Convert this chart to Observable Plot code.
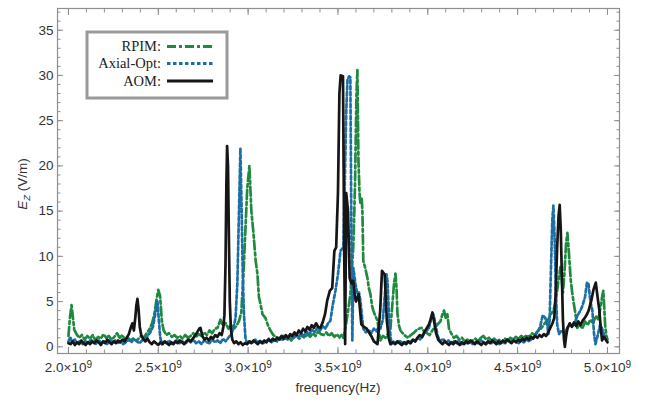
<!DOCTYPE html>
<html><head><meta charset="utf-8">
<script src="https://cdn.jsdelivr.net/npm/d3@7"></script>
<script src="https://cdn.jsdelivr.net/npm/@observablehq/plot@0.6"></script>
<style>
body{margin:0;background:#fff;}
#chart svg{display:block;}
</style>
</head><body><div id="chart"></div>
<script>
// Series names / styles
const seriesNames = ["RPIM:", "Axial-Opt:", "AOM:"];
const seriesColors = ["#1f8a3f", "#1c6fa6", "#161616"];
const seriesDash = ["9,3,3,3", "3.5,2.5", null];

// Tick values (frequency in units of 1e9 Hz)
const xMajor = [2.0, 2.5, 3.0, 3.5, 4.0, 4.5, 5.0];
const xMinor = [2.0,2.1,2.2,2.3,2.4,2.5,2.6,2.7,2.8,2.9,3.0,3.1,3.2,3.3,3.4,3.5,3.6,3.7,3.8,3.9,4.0,4.1,4.2,4.3,4.4,4.5,4.6,4.7,4.8,4.9,5.0];
const yMajor = [0, 5, 10, 15, 20, 25, 30, 35];
const yMinor = [0,1,2,3,4,5,6,7,8,9,10,11,12,13,14,15,16,17,18,19,20,21,22,23,24,25,26,27,28,29,30,31,32,33,34,35,36,37];

// RPIM: [frequency (GHz), Ez (V/m)]
const rpim = [[2.000,1.2],[2.008,3.2],[2.017,4.6],[2.024,3.4],[2.032,1.9],[2.045,1.4],[2.06,1.0],[2.075,1.3],[2.09,0.8],[2.105,1.2],[2.12,0.9],[2.135,1.3],[2.15,0.7],[2.165,1.1],[2.18,0.9],[2.195,1.4],[2.21,1.0],[2.225,1.2],[2.24,0.8],[2.255,1.1],[2.27,1.5],[2.285,1.0],[2.30,1.3],[2.315,0.8],[2.33,1.0],[2.345,0.7],[2.36,0.9],[2.375,0.6],[2.39,0.9],[2.405,1.2],[2.42,1.0],[2.435,1.5],[2.45,1.9],[2.465,2.6],[2.478,3.6],[2.49,5.2],[2.50,6.3],[2.51,5.6],[2.52,2.8],[2.53,1.8],[2.545,1.3],[2.56,1.5],[2.575,1.1],[2.59,1.3],[2.605,1.0],[2.62,1.2],[2.635,0.9],[2.65,1.3],[2.665,1.0],[2.68,1.2],[2.695,1.5],[2.71,1.1],[2.725,1.4],[2.74,1.2],[2.755,1.6],[2.77,1.3],[2.785,1.8],[2.80,1.5],[2.815,2.0],[2.83,2.1],[2.846,3.0],[2.86,2.3],[2.875,2.6],[2.89,2.0],[2.905,2.4],[2.92,2.0],[2.935,2.3],[2.95,2.9],[2.962,3.8],[2.974,8.0],[2.985,13],[2.995,17.5],[3.007,20.0],[3.018,15],[3.03,12.5],[3.042,9.5],[3.052,8.0],[3.06,5.5],[3.068,4.8],[3.08,3.6],[3.096,3.2],[3.11,2.4],[3.124,1.8],[3.14,1.3],[3.163,1.0],[3.18,0.8],[3.195,1.2],[3.21,0.9],[3.225,1.1],[3.24,0.7],[3.255,1.0],[3.27,1.3],[3.285,0.9],[3.30,1.2],[3.315,1.0],[3.33,1.4],[3.345,1.1],[3.36,1.5],[3.375,1.2],[3.39,1.7],[3.405,1.4],[3.42,1.3],[3.435,1.6],[3.45,1.2],[3.465,1.5],[3.48,1.1],[3.495,1.4],[3.51,1.0],[3.52,1.3],[3.53,1.0],[3.545,2.5],[3.558,4.2],[3.569,5.8],[3.578,8.5],[3.586,11.4],[3.595,18],[3.603,28],[3.608,30.6],[3.614,20.6],[3.62,17],[3.625,15.8],[3.632,16.5],[3.636,15],[3.641,9.5],[3.652,8.7],[3.664,7.6],[3.672,6.5],[3.681,5.8],[3.69,4.5],[3.697,4.0],[3.708,3.4],[3.72,2.9],[3.728,1.6],[3.736,0.7],[3.75,1.2],[3.765,1.0],[3.78,1.5],[3.792,2.0],[3.802,4.5],[3.812,7.0],[3.82,8.1],[3.826,6.5],[3.831,3.7],[3.84,2.3],[3.848,1.8],[3.86,1.5],[3.875,1.2],[3.89,1.0],[3.905,1.3],[3.92,1.5],[3.935,1.8],[3.95,2.0],[3.965,2.1],[3.98,1.7],[3.995,1.5],[4.01,1.3],[4.025,1.8],[4.04,2.2],[4.055,2.5],[4.07,2.8],[4.08,3.5],[4.09,4.0],[4.10,3.2],[4.109,3.6],[4.118,2.0],[4.13,1.5],[4.145,1.0],[4.16,1.2],[4.175,0.8],[4.19,1.0],[4.205,0.6],[4.22,0.8],[4.235,0.5],[4.25,0.7],[4.265,0.9],[4.28,0.6],[4.295,1.0],[4.31,1.2],[4.325,0.8],[4.34,1.0],[4.355,0.7],[4.37,0.9],[4.385,0.6],[4.40,0.8],[4.415,0.5],[4.43,0.9],[4.445,0.7],[4.46,1.0],[4.475,0.8],[4.49,1.1],[4.505,0.9],[4.52,1.2],[4.535,1.0],[4.55,1.3],[4.565,1.1],[4.58,1.5],[4.595,1.3],[4.61,1.7],[4.625,1.9],[4.64,2.3],[4.655,2.7],[4.67,3.0],[4.685,3.6],[4.699,4.0],[4.712,5.0],[4.725,7.0],[4.738,8.8],[4.745,7.5],[4.752,6.0],[4.76,8.0],[4.77,11.5],[4.777,12.6],[4.785,10.5],[4.795,7.5],[4.805,5.8],[4.815,4.5],[4.825,3.2],[4.832,2.1],[4.845,2.5],[4.86,2.0],[4.875,2.8],[4.89,2.4],[4.905,3.0],[4.92,2.6],[4.935,3.4],[4.95,3.0],[4.962,4.5],[4.97,5.5],[4.977,6.2],[4.983,4.0],[4.988,2.1],[4.995,1.2],[5.0,0.8]];

// Axial-Opt
const axialOpt = [[2.000,0.6],[2.01,1.1],[2.02,0.5],[2.035,0.8],[2.05,0.4],[2.065,0.7],[2.08,0.3],[2.095,0.6],[2.11,0.4],[2.125,0.8],[2.14,0.5],[2.155,0.3],[2.17,0.7],[2.185,0.4],[2.20,0.6],[2.215,0.3],[2.23,0.8],[2.245,0.5],[2.26,0.7],[2.275,0.4],[2.29,0.6],[2.305,0.3],[2.32,0.5],[2.335,0.8],[2.35,0.5],[2.365,0.9],[2.38,0.6],[2.395,0.4],[2.41,0.7],[2.425,0.9],[2.44,1.2],[2.455,1.6],[2.47,2.2],[2.482,3.5],[2.495,5.1],[2.503,3.0],[2.51,1.2],[2.518,0.3],[2.53,0.6],[2.545,0.4],[2.56,0.7],[2.575,0.3],[2.59,0.5],[2.605,0.8],[2.62,0.4],[2.635,0.6],[2.65,0.3],[2.665,0.7],[2.68,0.5],[2.695,0.8],[2.71,0.4],[2.725,0.6],[2.74,0.3],[2.755,0.7],[2.77,0.5],[2.785,0.4],[2.80,0.8],[2.815,0.5],[2.83,0.7],[2.845,0.4],[2.86,0.9],[2.875,0.6],[2.89,1.0],[2.905,1.4],[2.918,2.0],[2.93,3.2],[2.94,7],[2.948,14],[2.957,21.9],[2.964,15],[2.97,8],[2.977,3.5],[2.985,1.0],[2.995,0.3],[3.01,0.6],[3.025,0.4],[3.04,0.8],[3.055,0.5],[3.07,0.7],[3.085,0.4],[3.10,0.6],[3.115,0.9],[3.13,0.5],[3.145,0.8],[3.16,0.6],[3.175,1.0],[3.19,0.7],[3.205,1.1],[3.22,0.8],[3.235,1.2],[3.25,0.9],[3.265,1.3],[3.28,1.0],[3.295,1.5],[3.31,1.2],[3.325,1.7],[3.34,1.4],[3.355,1.9],[3.37,1.6],[3.385,2.1],[3.40,1.8],[3.415,2.3],[3.43,2.0],[3.445,2.6],[3.458,2.9],[3.47,4.5],[3.486,6.2],[3.50,8.0],[3.514,10.6],[3.522,10.8],[3.53,11.0],[3.538,18],[3.546,26],[3.553,29.5],[3.562,29.9],[3.569,29.8],[3.575,12],[3.58,0.7],[3.586,8.7],[3.597,7.0],[3.608,5.8],[3.617,6.0],[3.625,5.1],[3.633,3.5],[3.641,2.0],[3.655,1.6],[3.67,1.9],[3.685,1.5],[3.70,2.0],[3.715,1.7],[3.725,2.2],[3.736,2.0],[3.75,3.0],[3.762,6.0],[3.77,8.0],[3.776,7.2],[3.786,2.5],[3.797,0.3],[3.81,0.6],[3.825,0.4],[3.84,0.7],[3.855,0.5],[3.87,0.3],[3.885,0.6],[3.90,0.4],[3.915,0.8],[3.93,0.6],[3.945,1.0],[3.96,0.8],[3.975,1.3],[3.99,1.7],[4.005,2.0],[4.018,3.0],[4.031,3.6],[4.042,2.6],[4.055,1.2],[4.07,0.6],[4.085,0.9],[4.10,0.5],[4.115,0.7],[4.13,0.3],[4.145,0.6],[4.16,0.4],[4.175,0.7],[4.19,0.3],[4.205,0.5],[4.22,0.4],[4.235,0.6],[4.25,0.3],[4.265,0.5],[4.28,0.4],[4.295,0.7],[4.31,0.5],[4.325,0.3],[4.34,0.6],[4.355,0.4],[4.37,0.7],[4.385,0.5],[4.40,0.3],[4.415,0.6],[4.43,0.4],[4.445,0.7],[4.46,0.5],[4.475,0.8],[4.49,0.6],[4.505,0.4],[4.52,0.7],[4.535,0.5],[4.55,0.8],[4.565,0.6],[4.58,0.9],[4.595,1.2],[4.61,1.6],[4.625,2.2],[4.64,3.5],[4.654,3.2],[4.665,2.4],[4.671,1.4],[4.678,3],[4.686,9],[4.693,14],[4.699,15.6],[4.706,12],[4.713,6],[4.72,2.5],[4.73,1.4],[4.745,1.8],[4.76,1.5],[4.775,2.0],[4.79,2.5],[4.805,2.2],[4.82,2.8],[4.835,3.5],[4.849,4.0],[4.86,4.5],[4.875,5.5],[4.886,7.1],[4.894,7.0],[4.905,5.0],[4.916,4.0],[4.925,1.5],[4.933,0.3],[4.945,1.2],[4.96,2.5],[4.97,2.0],[4.98,1.4],[4.99,0.9],[5.0,0.5]];

// AOM
const aom = [[2.000,0.4],[2.012,0.3],[2.024,0.6],[2.036,0.2],[2.048,0.5],[2.06,0.3],[2.072,0.7],[2.084,0.4],[2.096,0.2],[2.108,0.5],[2.12,0.3],[2.132,0.6],[2.144,0.4],[2.156,0.7],[2.168,0.5],[2.18,0.2],[2.192,0.6],[2.204,0.4],[2.216,0.8],[2.228,0.5],[2.24,0.3],[2.252,0.6],[2.264,0.4],[2.276,0.7],[2.288,0.5],[2.30,0.8],[2.312,0.6],[2.324,1.0],[2.336,1.4],[2.348,2.2],[2.356,2.6],[2.364,1.8],[2.372,3.2],[2.378,4.6],[2.384,5.3],[2.39,4.2],[2.397,2.2],[2.405,1.3],[2.415,0.9],[2.428,0.6],[2.44,0.9],[2.452,0.5],[2.464,0.3],[2.476,0.6],[2.488,0.4],[2.50,0.2],[2.512,0.5],[2.524,0.3],[2.536,0.6],[2.548,0.4],[2.56,0.2],[2.572,0.5],[2.584,0.3],[2.596,0.6],[2.608,0.4],[2.62,0.7],[2.632,0.5],[2.644,0.3],[2.656,0.6],[2.668,0.8],[2.68,0.6],[2.692,0.9],[2.704,1.2],[2.716,1.6],[2.728,2.0],[2.735,2.1],[2.745,1.2],[2.757,0.8],[2.769,1.0],[2.781,0.7],[2.793,1.1],[2.805,0.9],[2.817,1.3],[2.829,1.1],[2.841,1.5],[2.853,1.3],[2.862,2.2],[2.868,3.5],[2.874,9],[2.879,18],[2.883,22.2],[2.888,20],[2.893,12],[2.898,5],[2.904,2.0],[2.912,0.8],[2.922,0.4],[2.934,0.6],[2.946,0.3],[2.958,0.5],[2.97,0.2],[2.982,0.4],[2.994,0.3],[3.006,0.6],[3.018,0.4],[3.03,0.7],[3.042,0.5],[3.054,0.3],[3.066,0.6],[3.078,0.4],[3.09,0.7],[3.102,0.5],[3.114,0.8],[3.126,0.6],[3.138,0.9],[3.15,0.7],[3.162,1.0],[3.174,0.8],[3.186,1.2],[3.198,0.9],[3.21,1.3],[3.222,1.0],[3.234,1.4],[3.246,1.2],[3.258,1.6],[3.27,1.3],[3.282,1.8],[3.294,1.5],[3.306,2.0],[3.318,1.7],[3.33,2.2],[3.342,1.9],[3.354,2.4],[3.366,2.1],[3.378,2.6],[3.39,2.2],[3.402,2.1],[3.415,2.7],[3.428,3.6],[3.44,5.1],[3.455,6.2],[3.468,6.5],[3.48,10.6],[3.49,11.0],[3.50,17],[3.508,28],[3.515,30.0],[3.528,29.9],[3.535,10],[3.54,0.3],[3.546,17],[3.556,15],[3.565,7.6],[3.575,7.0],[3.585,7.3],[3.595,5.5],[3.60,5.0],[3.615,5.8],[3.63,2.5],[3.645,2.2],[3.66,2.0],[3.672,1.6],[3.685,1.2],[3.70,0.6],[3.72,0.3],[3.735,4.0],[3.745,8.4],[3.76,8.0],[3.772,2.9],[3.782,1.0],[3.792,0.3],[3.805,0.5],[3.818,0.3],[3.83,0.6],[3.842,0.4],[3.855,0.2],[3.868,0.5],[3.88,0.3],[3.892,0.6],[3.905,0.4],[3.918,0.8],[3.93,0.6],[3.942,1.0],[3.955,1.3],[3.968,1.1],[3.98,1.6],[3.992,2.0],[4.005,2.4],[4.015,3.0],[4.026,3.8],[4.035,2.8],[4.046,1.5],[4.058,0.8],[4.07,0.5],[4.082,0.3],[4.094,0.6],[4.106,0.4],[4.118,0.2],[4.13,0.5],[4.142,0.3],[4.154,0.6],[4.166,0.4],[4.178,0.2],[4.19,0.5],[4.202,0.3],[4.214,0.6],[4.226,0.4],[4.238,0.7],[4.25,0.5],[4.262,0.3],[4.274,0.6],[4.286,0.4],[4.298,0.2],[4.31,0.5],[4.322,0.3],[4.334,0.6],[4.346,0.4],[4.358,0.7],[4.37,0.5],[4.382,0.3],[4.394,0.6],[4.406,0.4],[4.418,0.7],[4.43,0.5],[4.442,0.8],[4.454,0.6],[4.466,0.4],[4.478,0.7],[4.49,0.5],[4.502,0.8],[4.514,0.6],[4.526,0.9],[4.538,0.7],[4.55,1.0],[4.562,0.8],[4.574,1.1],[4.586,0.9],[4.598,1.2],[4.61,1.0],[4.622,1.3],[4.634,1.1],[4.646,1.4],[4.658,1.2],[4.67,1.6],[4.682,2.1],[4.694,2.6],[4.704,3.2],[4.712,6],[4.72,11],[4.728,14.5],[4.734,15.7],[4.74,13],[4.746,8],[4.752,3],[4.758,0.8],[4.763,0.0],[4.77,1.2],[4.778,2.1],[4.79,2.6],[4.802,2.2],[4.814,2.7],[4.826,2.3],[4.838,2.8],[4.85,2.4],[4.862,2.9],[4.874,3.2],[4.886,3.6],[4.895,4.0],[4.91,5.1],[4.922,6.3],[4.935,7.1],[4.945,5.5],[4.955,4.0],[4.962,2.2],[4.97,0.7],[4.98,1.1],[4.99,0.8],[5.0,0.5]];

const allSeries = [rpim, axialOpt, aom];
const G = 1e9;
const frameColor = "#8f8f8f";
const fmtX = d => `${(d / G).toFixed(1)}×10|9`;

const plot = Plot.plot({
  width: 647,
  height: 403,
  marginLeft: 57,
  marginRight: 28,
  marginTop: 8,
  marginBottom: 50,
  style: {fontFamily: "Liberation Sans, Arial, sans-serif", fontSize: "13.5px", background: "#fff", overflow: "visible"},
  x: {domain: [1.939 * G, 5.067 * G]},
  y: {domain: [-0.74, 37.4]},
  marks: [
    ...allSeries.map((s, i) => Plot.line(s, {
      x: d => d[0] * G, y: d => d[1],
      stroke: seriesColors[i], strokeWidth: 2.7,
      strokeDasharray: seriesDash[i], strokeLinejoin: "round", clip: true
    })),
    Plot.frame({stroke: frameColor, strokeWidth: 1.2}),
    // bottom axis labels
    Plot.axisX(xMajor.map(d => d * G), {anchor: "bottom", tickSize: 0, tickPadding: 9, tickFormat: fmtX, fill: "#333", fontSize: 13.5, label: null, ariaLabel: "xlabels"}),
    // inward ticks
    Plot.axisX(xMajor.map(d => d * G), {anchor: "bottom", tickSize: -6, stroke: frameColor, tickFormat: () => "", label: null}),
    Plot.axisX(xMinor.map(d => d * G), {anchor: "bottom", tickSize: -3.5, stroke: frameColor, tickFormat: () => "", label: null}),
    Plot.axisX(xMajor.map(d => d * G), {anchor: "top", tickSize: -6, stroke: frameColor, tickFormat: () => "", label: null}),
    Plot.axisX(xMinor.map(d => d * G), {anchor: "top", tickSize: -3.5, stroke: frameColor, tickFormat: () => "", label: null}),
    Plot.axisY(yMajor, {anchor: "left", tickSize: 0, tickPadding: 4, fill: "#333", fontSize: 13.5, label: null}),
    Plot.axisY(yMajor, {anchor: "left", tickSize: -6, stroke: frameColor, tickFormat: () => "", label: null}),
    Plot.axisY(yMinor, {anchor: "left", tickSize: -3.5, stroke: frameColor, tickFormat: () => "", label: null}),
    Plot.axisY(yMajor, {anchor: "right", tickSize: -6, stroke: frameColor, tickFormat: () => "", label: null}),
    Plot.axisY(yMinor, {anchor: "right", tickSize: -3.5, stroke: frameColor, tickFormat: () => "", label: null})
  ]
});

document.getElementById("chart").appendChild(plot);
const svg = d3.select(plot);

// Turn "2.0×10|9" into mantissa with a raised exponent
svg.selectAll("text").each(function() {
  const t = this.textContent;
  if (t.includes("×10|")) {
    const [base, exp] = t.split("|");
    const el = d3.select(this);
    el.text(null);
    el.append("tspan").text(base);
    el.append("tspan").attr("font-size", 10).attr("dy", "-0.45em").text(exp);
  }
});

// Axis titles
svg.append("text")
  .attr("x", 338).attr("y", 392)
  .attr("text-anchor", "middle")
  .attr("font-family", "Liberation Sans, Arial, sans-serif")
  .attr("font-size", 13.5).attr("fill", "#333")
  .text("frequency(Hz)");

const yt = svg.append("text")
  .attr("transform", "translate(27,184) rotate(-90)")
  .attr("text-anchor", "middle")
  .attr("font-family", "Liberation Sans, Arial, sans-serif")
  .attr("font-size", 13.5).attr("fill", "#333");
yt.append("tspan").attr("font-style", "italic").text("E");
yt.append("tspan").attr("font-style", "italic").attr("font-size", 9.5).attr("dy", 3).text("Z");
yt.append("tspan").attr("dy", -3).text(" (V/m)");

// Legend
const lg = svg.append("g");
lg.append("rect").attr("x", 87).attr("y", 32).attr("width", 140).attr("height", 66)
  .attr("fill", "#fff").attr("stroke", "#9a9a9a").attr("stroke-width", 3);
const rowY = [46.5, 63.5, 81];
seriesNames.forEach((name, i) => {
  lg.append("text").attr("x", 161).attr("y", rowY[i] + 4.8)
    .attr("text-anchor", "end")
    .attr("font-family", "Liberation Serif, 'DejaVu Serif', serif")
    .attr("font-size", 14.5).attr("fill", "#222").text(name);
  lg.append("line").attr("x1", 167).attr("x2", 213).attr("y1", rowY[i]).attr("y2", rowY[i])
    .attr("stroke", seriesColors[i]).attr("stroke-width", 2.8)
    .attr("stroke-dasharray", seriesDash[i]);
});
</script>
</body></html>
